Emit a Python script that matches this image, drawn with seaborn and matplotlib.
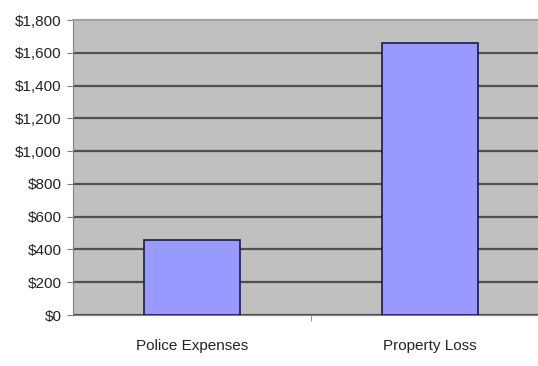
import matplotlib
matplotlib.use("Agg")
import matplotlib.pyplot as plt
import seaborn as sns
import pandas as pd
from matplotlib.ticker import FuncFormatter, MultipleLocator

categories = ["Police Expenses", "Property Loss"]
values = [455, 1660]

sns.set_style("white")
plt.rcParams['font.family'] = ['Liberation Sans Narrow', 'Liberation Sans', 'DejaVu Sans']

df = pd.DataFrame({"category": categories, "value": values})

fig = plt.figure(figsize=(5.38, 3.66), dpi=100)
ax = fig.add_axes([73/538, 1-315/366, (549-73)/538, (315-20)/366])
ax.set_facecolor("#c0c0c0")

sns.barplot(data=df, x="category", y="value", ax=ax, color="#9999ff",
            saturation=1, width=0.4, edgecolor="#1a1a4a", linewidth=1.2, zorder=3)

ax.set_ylim(0, 1800)
ax.set_xlim(-0.5, 1.5)
ax.yaxis.set_major_locator(MultipleLocator(200))
ax.yaxis.set_major_formatter(FuncFormatter(lambda v, p: f"${int(v):,}"))
ax.grid(axis="y", color="#505050", linewidth=1.6, zorder=1)
ax.set_axisbelow(True)
ax.set_xlabel("")
ax.set_ylabel("")

ax.spines["right"].set_visible(False)
ax.spines["top"].set_color("#a0a0a0")
ax.spines["top"].set_linewidth(1.5)
ax.spines["left"].set_color("#808080")
ax.spines["bottom"].set_color("#808080")

ax.tick_params(axis="y", left=True, length=4, color="#808080", labelsize=11, pad=4,
               labelcolor="#222222")
ax.set_xticks([0.5], minor=True)
ax.tick_params(axis="x", which="major", bottom=False, labelsize=11, pad=14,
               labelcolor="#222222")
ax.tick_params(axis="x", which="minor", bottom=True, length=4, color="#808080")

fig.canvas.draw()
for loc, gl in zip(ax.get_yticks(), ax.get_ygridlines()):
    if loc >= 1800:
        gl.set_visible(False)

fig.savefig("out.png", dpi=100)
